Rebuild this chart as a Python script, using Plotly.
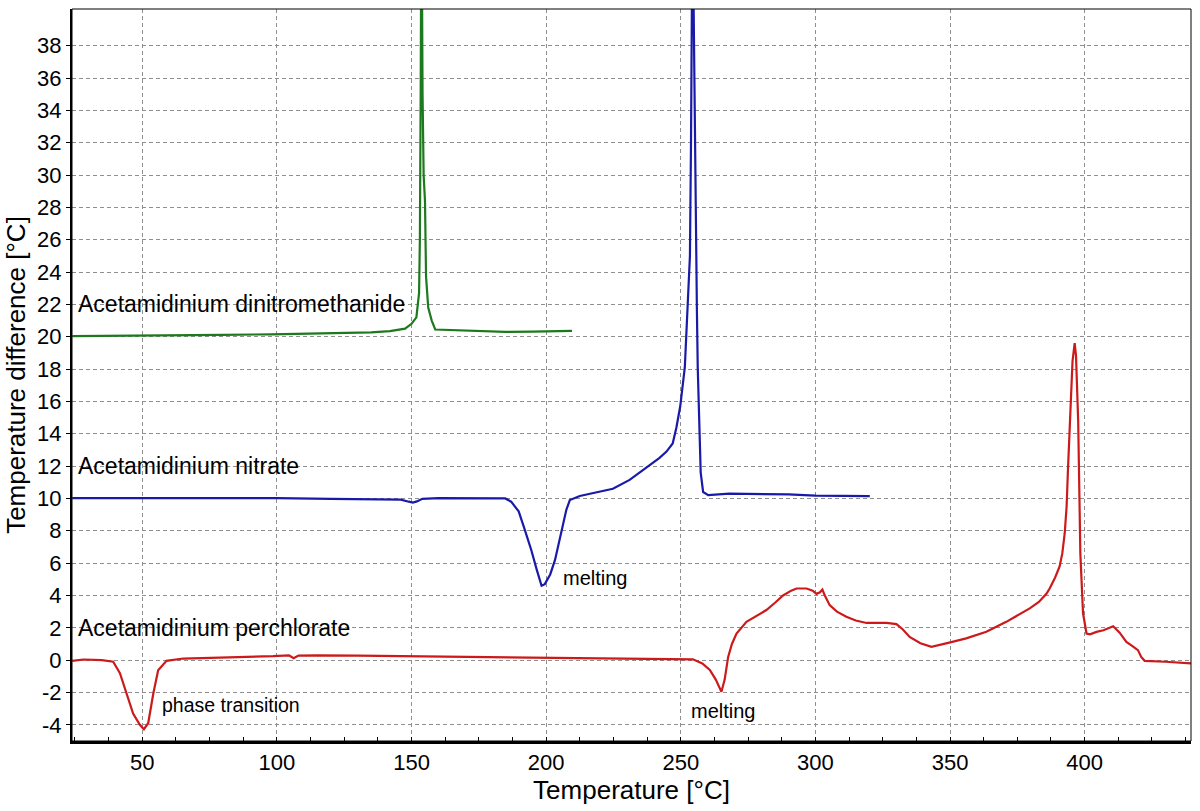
import plotly.graph_objects as go

# ---- data ----
green_T = [24.0, 40, 60, 80, 98, 120, 135, 142, 147.6, 150, 151.8, 152.8, 153.1, 153.4, 153.7,
           154.1, 154.5, 155.0, 155.4, 156.2, 157.5, 158.8, 165, 172.4, 184.8, 195, 209.6]
green_V = [20.04, 20.05, 20.08, 20.12, 20.15, 20.2, 20.27, 20.35, 20.5, 20.8, 21.2, 22.7, 26, 35, 48,
           35, 30, 28.4, 23.7, 21.8, 21.0, 20.45, 20.42, 20.4, 20.3, 20.32, 20.37]

blue_T = [24.0, 50, 80, 100, 120, 140, 146, 149, 150.5, 152, 154, 160, 175, 184.8, 187, 189.8, 192.2,
          194.5, 196.5, 198.3, 199.5, 201.5, 203.3, 205.7, 207.5, 208.8, 212.5, 218, 224.8, 231, 237.3,
          242, 244.7, 247, 248.4, 249.8, 251.5, 252.8, 253.4, 253.8, 254.3, 254.8, 255.1, 255.5, 256.0,
          256.3, 256.9, 257.4, 258.3, 260.2, 268, 280, 290, 300, 310, 320.2]
blue_V = [10.02, 10.03, 10.0, 10.02, 9.98, 9.97, 9.93, 9.8, 9.75, 9.82, 9.98, 10.02, 10.03, 10.0, 9.8, 9.2, 8.0,
          6.8, 5.6, 4.6, 4.7, 5.3, 6.2, 8.0, 9.3, 9.9, 10.15, 10.35, 10.6, 11.15, 11.9,
          12.5, 12.9, 13.4, 14.4, 15.7, 18.1, 22.3, 25, 32, 45, 40, 34.4, 26, 21.5,
          18.1, 14.0, 11.6, 10.4, 10.2, 10.3, 10.28, 10.25, 10.18, 10.15, 10.14]

red_T = [24.0, 28.1, 35, 39.2, 41.7, 44.2, 46.6, 49.1, 50.6, 52.2, 54.1, 55.9, 59.0, 65.2, 83.8, 98.6,
         104.5, 106.2, 108, 115, 130, 150, 175, 200, 225, 250, 254.5, 258, 260.8, 263, 265.1, 266.3,
         267.6, 269, 270.7, 274.4, 278, 281.8, 285, 288, 291, 293, 296.7, 299, 300.4, 301.7, 302.6,
         303.5, 305.3, 308, 311.5, 315, 319, 323, 326.4, 330.1, 332.5, 335, 339, 343.1, 346, 350.1,
         356, 363.5, 370.9, 375, 379.6, 383, 385.8, 387, 389, 390.7, 391.7, 392.6, 393.3, 393.8, 394.7,
         395.5, 396.3, 396.8, 397.6, 398.0, 398.4, 399.4, 400.7, 402, 404.4, 407, 410.6, 413, 415.5,
         417.5, 419.8, 421.0, 422.3, 430, 436, 439.5]
red_V = [-0.05, 0.04, 0.0, -0.1, -0.8, -2.06, -3.3, -4.0, -4.27, -3.9, -2.06, -0.62, -0.04, 0.1, 0.17, 0.25,
         0.3, 0.12, 0.28, 0.3, 0.28, 0.25, 0.2, 0.15, 0.12, 0.1, 0.05, -0.2, -0.6, -1.2, -1.96, -1.2,
         0.2, 1.0, 1.65, 2.37, 2.75, 3.1, 3.55, 4.0, 4.3, 4.43, 4.43, 4.3, 4.1, 4.2, 4.37,
         4.0, 3.4, 3.0, 2.68, 2.45, 2.3, 2.28, 2.3, 2.23, 1.9, 1.44, 1.05, 0.82, 0.92, 1.1,
         1.35, 1.75, 2.37, 2.75, 3.2, 3.6, 4.1, 4.43, 5.1, 5.8, 6.6, 7.85, 9.5, 11.75, 15.9,
         18.5, 19.6, 18.8, 14.8, 10.5, 6.6, 2.9, 1.65, 1.6, 1.75, 1.85, 2.1, 1.7, 1.13,
         0.9, 0.62, 0.2, -0.04, -0.1, -0.15, -0.2]

x_ticks = [50, 100, 150, 200, 250, 300, 350, 400]
y_ticks = list(range(-4, 40, 2))
y_ticktext = [str(v) for v in y_ticks]  # plain hyphen minus as in reference

labels = [
    ("Acetamidinium dinitromethanide", 25.2, 22.0, 23),
    ("Acetamidinium nitrate", 25.2, 12.0, 23),
    ("Acetamidinium perchlorate", 25.2, 2.0, 23),
    ("phase transition", 56.6, -2.8, 19.5),
    ("melting", 205.6, 5.1, 20),
    ("melting", 253.2, -3.15, 20),
]

FONT = "Arial, Liberation Sans, sans-serif"

fig = go.Figure()
fig.add_trace(go.Scatter(x=green_T, y=green_V, mode="lines",
                         line=dict(color="#1c7a1c", width=2.2), showlegend=False))
fig.add_trace(go.Scatter(x=blue_T, y=blue_V, mode="lines",
                         line=dict(color="#1a1aa8", width=2.2), showlegend=False))
fig.add_trace(go.Scatter(x=red_T, y=red_V, mode="lines",
                         line=dict(color="#cc1a1a", width=2.2), showlegend=False))

for text, x, y, size in labels:
    fig.add_annotation(x=x, y=y, xref="x", yref="y", text=text, showarrow=False,
                       xanchor="left", yanchor="middle",
                       font=dict(family=FONT, size=size, color="black"))

# thin frame on top/right
fig.add_shape(type="rect", xref="paper", yref="paper", x0=0, y0=0, x1=1, y1=1,
              line=dict(color="black", width=1), layer="above")

fig.update_layout(
    width=1200, height=811,
    margin=dict(l=72, r=9, t=9, b=70),
    paper_bgcolor="white", plot_bgcolor="white",
    font=dict(family=FONT, color="black"),
    xaxis=dict(
        range=[23.9, 439.5], tickvals=x_ticks, showgrid=True, automargin=False,
        gridcolor="#8f8f8f", griddash="4px,3px", gridwidth=1,
        showline=True, linecolor="black", linewidth=2.5,
        ticks="inside", ticklen=4, tickcolor="black",
        minor=dict(dtick=12.5, ticks="inside", ticklen=4, tickcolor="black", showgrid=False),
        tickfont=dict(size=22), ticklabelstandoff=0,
        title=dict(text="Temperature [°C]", font=dict(size=26), standoff=6),
        zeroline=False,
    ),
    yaxis=dict(
        range=[-5.0, 40.27], tickvals=y_ticks, ticktext=y_ticktext, showgrid=True, automargin=False,
        gridcolor="#8f8f8f", griddash="4px,3px", gridwidth=1,
        showline=True, linecolor="black", linewidth=2,
        ticks="outside", ticklen=4, tickcolor="black",
        tickfont=dict(size=22),
        title=dict(text="Temperature difference [°C]", font=dict(size=26), standoff=4),
        zeroline=False,
    ),
)

fig.write_html(
    "out.html",
    config={"displayModeBar": False},
    post_script="document.body.style.margin='0';document.body.style.overflow='hidden';",
)
